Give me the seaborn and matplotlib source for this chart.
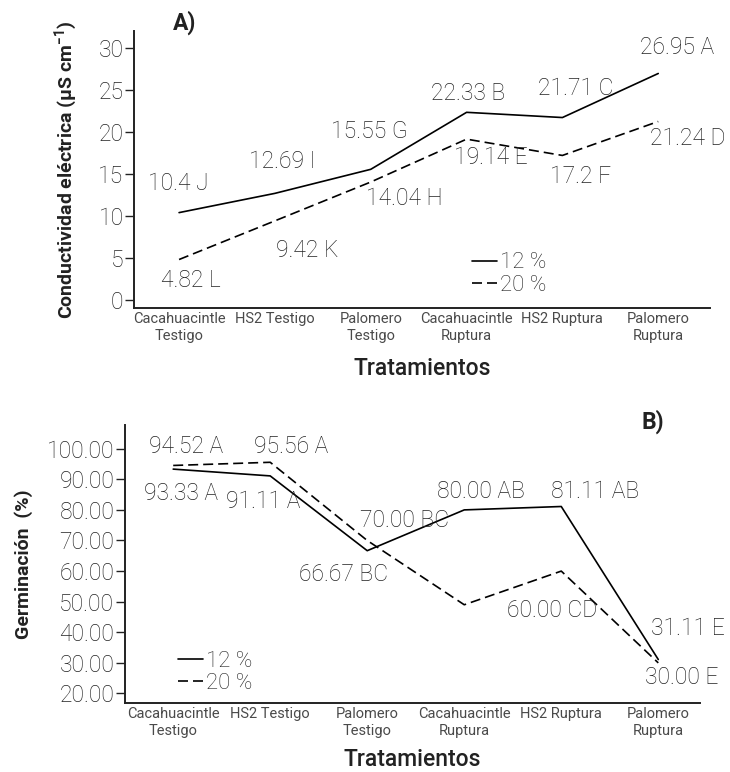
import matplotlib
matplotlib.use("Agg")
import matplotlib.pyplot as plt
import pandas as pd
import seaborn as sns

# Datos
tratamientos = ["Cacahuacintle\nTestigo", "HS2 Testigo", "Palomero\nTestigo",
                "Cacahuacintle\nRuptura", "HS2 Ruptura", "Palomero\nRuptura"]
humedad = ["12 %", "20 %"]

# A) Conductividad electrica
ce_12 = [10.4, 12.69, 15.55, 22.33, 21.71, 26.95]
ce_20 = [4.82, 9.42, 14.04, 19.14, 17.2, 21.24]
ce_letras_12 = ["J", "I", "G", "B", "C", "A"]
ce_letras_20 = ["L", "K", "H", "E", "F", "D"]

# B) Germinacion (el punto 20 % Cacahuacintle Ruptura no tiene etiqueta)
germ_12 = [93.33, 91.11, 66.67, 80.00, 81.11, 31.11]
germ_20 = [94.52, 95.56, 70.00, 49.0, 60.00, 30.00]
germ_etiq_12 = ["93.33 A", "91.11 A", "66.67 BC", "80.00 AB", "81.11 AB", "31.11 E"]
germ_etiq_20 = ["94.52 A", "95.56 A", "70.00 BC", "", "60.00 CD", "30.00 E"]

ce_etiq_12 = [f"{v:g} {l}" for v, l in zip(ce_12, ce_letras_12)]
ce_etiq_20 = [f"{v:g} {l}" for v, l in zip(ce_20, ce_letras_20)]

# desplazamientos de las etiquetas (pixeles)
off_ce_12 = [(-1, 29), (7, 32), (-1, 38), (2, 19), (13, 29), (19, 26)]
off_ce_20 = [(12, -21), (32, -30), (34, -16), (24, -18), (18, -21), (30, -17)]
off_g_12 = [(8, -24), (-7, -26), (-24, -24), (17, 18), (34, 15), (30, 31)]
off_g_20 = [(13, 19), (21, 16), (37, 20), (0, 0), (-9, -39), (23, -15)]


def tabla(v12, v20, e12, e20):
    return pd.DataFrame({
        "Tratamiento": tratamientos * 2,
        "Humedad": [humedad[0]] * 6 + [humedad[1]] * 6,
        "valor": v12 + v20,
        "etiqueta": e12 + e20,
    })


df_ce = tabla(ce_12, ce_20, ce_etiq_12, ce_etiq_20)
df_g = tabla(germ_12, germ_20, germ_etiq_12, germ_etiq_20)

sns.set_style("ticks")
plt.rcParams["font.family"] = ["Roboto", "DejaVu Sans"]
plt.rcParams["mathtext.fontset"] = "custom"
plt.rcParams["mathtext.rm"] = "Roboto"
texto = "#222222"

fig = plt.figure(figsize=(7.3, 7.72), dpi=100)
ax1 = fig.add_axes([0.1836, 0.6010, 0.7890, 0.3588])
ax2 = fig.add_axes([0.1708, 0.0898, 0.7881, 0.3597])

estilos = {"12 %": "", "20 %": (6, 3)}


def panel(ax, df, offsets, ylim, yticks, fmt, ylabel, ylab_x, xlab_y, xlim, leg_xy):
    sns.lineplot(data=df, x="Tratamiento", y="valor", style="Humedad",
                 dashes=estilos, color="black", lw=1.2, sort=False, ax=ax)
    for (_, fila), off in zip(df.iterrows(), offsets):
        if fila["etiqueta"]:
            ax.annotate(fila["etiqueta"], (tratamientos.index(fila["Tratamiento"]), fila["valor"]),
                        xytext=off, textcoords="offset pixels", ha="center", va="center",
                        fontsize=16.5, fontweight="light", color=texto)
    ax.set_xlim(*xlim)
    ax.set_ylim(*ylim)
    ax.set_yticks(yticks)
    ax.set_yticklabels([fmt.format(t) for t in yticks], fontsize=16.5,
                       fontweight="light", color=texto)
    ax.set_xticks(range(len(tratamientos)))
    ax.set_xticklabels(tratamientos, fontsize=10.5, color="#4a4a4a", linespacing=1.3)
    ax.tick_params(axis="x", length=0, pad=3)
    ax.tick_params(axis="y", length=6.5, width=1, color="#222222", pad=1)
    sns.despine(ax=ax)
    for s in ["left", "bottom"]:
        ax.spines[s].set_linewidth(1.4)
        ax.spines[s].set_color("#222222")
    ax.set_ylabel(ylabel, fontsize=14, fontweight="bold", color="#222222")
    ax.yaxis.set_label_coords(ylab_x, 0.5)
    ax.set_xlabel("Tratamientos", fontsize=16.5, fontweight="medium", color="#222222")
    ax.xaxis.set_label_coords(0.5, xlab_y)
    ax.legend(title=None, frameon=False, loc="center left", bbox_to_anchor=leg_xy,
              handlelength=1.1, handletextpad=0.15, labelspacing=0.05,
              borderpad=0, borderaxespad=0, labelcolor=texto,
              prop={"weight": "light", "size": 16})


panel(ax1, df_ce, off_ce_12 + off_ce_20, (-0.95, 32), [0, 5, 10, 15, 20, 25, 30], "{:g}",
      "Conductividad eléctrica (µS cm$^{\\mathregular{-1}}$)", -0.094, -0.175,
      (-0.47, 5.54), (0.587, 0.123))
panel(ax2, df_g, off_g_12 + off_g_20, (17.0, 107.75), [20, 30, 40, 50, 60, 70, 80, 90, 100],
      "{:.2f}", "Germinación  (%)", -0.159, -0.165, (-0.5, 5.43), (0.093, 0.109))

fig.text(185 / 730, 1 - 23 / 772, "A)", ha="center", va="center", fontsize=16.5,
         fontweight="bold", color="#222222")
fig.text(653 / 730, 1 - 422 / 772, "B)", ha="center", va="center", fontsize=16.5,
         fontweight="bold", color="#222222")

fig.savefig("out.png", dpi=100)
